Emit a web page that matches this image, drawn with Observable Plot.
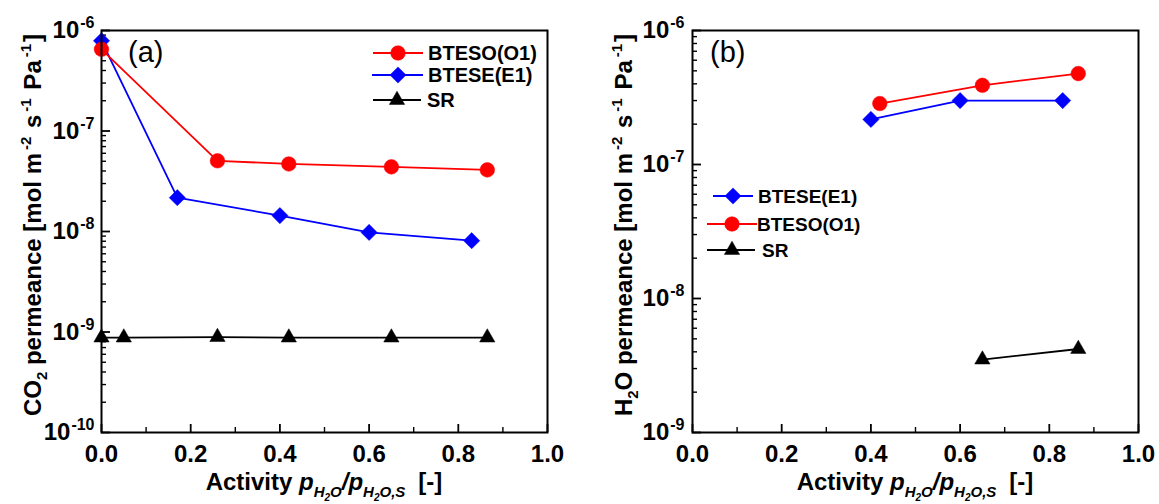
<!DOCTYPE html>
<html><head><meta charset="utf-8">
<script src="https://cdn.jsdelivr.net/npm/d3@7"></script>
<script src="https://cdn.jsdelivr.net/npm/@observablehq/plot@0.6"></script>
<style>
body{margin:0;background:#fff;}
#wrap{display:flex;width:1159px;height:504px;}
svg{display:block;}
svg text{font-family:"Liberation Sans",Arial,sans-serif;}
</style></head><body><div id="wrap"></div>
<script>
// ---------- Panel (a): CO2 permeance ----------
const aBTESO_x = [0, 0.26, 0.42, 0.65, 0.865];
const aBTESO_y = [6.5e-7, 5.05e-8, 4.7e-8, 4.4e-8, 4.1e-8];
const aBTESE_x = [0, 0.17, 0.40, 0.60, 0.83];
const aBTESE_y = [7.9e-7, 2.17e-8, 1.44e-8, 9.8e-9, 8.1e-9];
const aSR_x = [0, 0.05, 0.26, 0.42, 0.65, 0.865];
const aSR_y = [8.8e-10, 8.8e-10, 8.9e-10, 8.8e-10, 8.8e-10, 8.8e-10];
// ---------- Panel (b): H2O permeance ----------
const bBTESE_x = [0.40, 0.60, 0.83];
const bBTESE_y = [2.17e-7, 3.0e-7, 3.0e-7];
const bBTESO_x = [0.42, 0.65, 0.865];
const bBTESO_y = [2.85e-7, 3.9e-7, 4.77e-7];
const bSR_x = [0.65, 0.865];
const bSR_y = [3.5e-9, 4.2e-9];

const xTicks = [0, 0.2, 0.4, 0.6, 0.8, 1.0];
const xMinor = [0.1, 0.3, 0.5, 0.7, 0.9];
const aDecades = [1e-10, 1e-9, 1e-8, 1e-7, 1e-6];
const bDecades = [1e-9, 1e-8, 1e-7, 1e-6];
const aLegendOrder = ["BTESO(O1)", "BTESE(E1)", "SR"];
const bLegendOrder = ["BTESE(E1)", "BTESO(O1)", "SR"];
const colorOf = {"BTESO(O1)": "#ff0000", "BTESE(E1)": "#0000ff", "SR": "#000000"};
const symbolOf = {"BTESO(O1)": "circle", "BTESE(E1)": "diamond2", "SR": "triangle2"};
const d3SymbolOf = {"circle": d3.symbolCircle, "diamond2": d3.symbolDiamond2, "triangle2": d3.symbolTriangle2};

const zip = (xs, ys) => xs.map((x, i) => ({x, y: ys[i]}));
const aSeries = [
  {name: "SR", data: zip(aSR_x, aSR_y)},
  {name: "BTESE(E1)", data: zip(aBTESE_x, aBTESE_y)},
  {name: "BTESO(O1)", data: zip(aBTESO_x, aBTESO_y)}
];
const bSeries = [
  {name: "SR", data: zip(bSR_x, bSR_y)},
  {name: "BTESE(E1)", data: zip(bBTESE_x, bBTESE_y)},
  {name: "BTESO(O1)", data: zip(bBTESO_x, bBTESO_y)}
];

const NS = "http://www.w3.org/2000/svg";
const R = 7.3;

function richText(parent, runs, attrs) {
  const t = parent.append("text");
  for (const k in attrs) t.attr(k, attrs[k]);
  let cur = 0;
  for (const r of runs) {
    const shift = r.shift || 0;
    const ts = t.append("tspan").text(r.t);
    if (shift !== cur) ts.attr("dy", cur - shift);
    cur = shift;
    if (r.size) ts.attr("font-size", r.size);
    if (r.italic) ts.attr("font-style", "italic");
    if (r.dx) ts.attr("dx", r.dx);
  }
  return t;
}

function panel(o) {
  const height = 504, mt = 30, mb = 72;
  const pw = o.width - o.ml - o.mr, ph = height - mt - mb;
  const minor = [];
  for (const d of o.decades.slice(0, -1)) for (let k = 2; k <= 9; k++) minor.push(d * k);
  const marks = [
    // inward ticks (Plot tick marks, inset to short lengths)
    Plot.tickY(o.decades, {y: d => d, stroke: "black", strokeWidth: 1.8, insetRight: pw - 9}),
    Plot.tickY(minor, {y: d => d, stroke: "black", strokeWidth: 1.4, insetRight: pw - 5}),
    Plot.tickX(xTicks, {x: d => d, stroke: "black", strokeWidth: 1.8, insetTop: ph - 8}),
    Plot.tickX(xMinor, {x: d => d, stroke: "black", strokeWidth: 1.4, insetTop: ph - 5}),
    Plot.axisY(o.decades, {tickSize: 0, tickPadding: o.yPad, label: null,
      tickFormat: d => "10^" + Math.round(Math.log10(d)), fontSize: 24, fontWeight: "bold"}),
    Plot.axisX(xTicks, {tickSize: 0, tickPadding: 12, label: null,
      tickFormat: d3.format(".1f"), fontSize: 24, fontWeight: "bold"}),
    ...o.series.flatMap(s => [
      Plot.line(s.data, {x: "x", y: "y", stroke: colorOf[s.name], strokeWidth: 1.8}),
      Plot.dot(s.data, {x: "x", y: "y", symbol: symbolOf[s.name], r: R,
        fill: colorOf[s.name], stroke: colorOf[s.name], strokeWidth: 0.5})
    ]),
    Plot.frame({stroke: "black", strokeWidth: 2})
  ];
  const svg = Plot.plot({
    width: o.width, height,
    marginLeft: o.ml, marginRight: o.mr, marginTop: mt, marginBottom: mb,
    style: {color: "black", background: "white", overflow: "visible"},
    x: {domain: [0, 1], label: null},
    y: {type: "log", domain: [o.decades[0], o.decades[o.decades.length - 1]], label: null},
    marks
  });
  // superscript exponents on y tick labels
  svg.querySelectorAll('g[aria-label="y-axis tick label"] text').forEach(t => {
    const [base, exp] = t.textContent.split("^");
    t.textContent = base;
    const ts = document.createElementNS(NS, "tspan");
    ts.setAttribute("dy", "-10");
    ts.setAttribute("dx", "1");
    ts.setAttribute("font-size", "16");
    ts.textContent = exp;
    t.appendChild(ts);
  });
  const s = d3.select(svg);
  // panel label
  s.append("text").attr("x", o.ml + o.tagDx).attr("y", 62).attr("text-anchor", "start")
    .attr("font-family", "'Liberation Serif', 'Times New Roman', serif")
    .attr("font-size", 29).attr("fill", "black").text(o.tag);
  // y title
  const cy = mt + ph / 2;
  richText(s, o.yTitleRuns, {transform: `translate(${o.ml - 60},${cy - 6}) rotate(-90)`,
    "text-anchor": "middle", "font-size": 24, "font-weight": "bold", fill: "black"});
  // x title
  richText(s, [
    {t: "Activity "},
    {t: "p", italic: true},
    {t: "H", italic: true, size: 15, shift: -7},
    {t: "2", italic: true, size: 10, shift: -11},
    {t: "O", italic: true, size: 15, shift: -7},
    {t: "/p", italic: true, shift: 0},
    {t: "H", italic: true, size: 15, shift: -7},
    {t: "2", italic: true, size: 10, shift: -11},
    {t: "O,S", italic: true, size: 15, shift: -7},
    {t: "[-]", shift: 0, dx: 13}
  ], {x: o.ml + pw / 2, y: 490, "text-anchor": "middle", "font-size": 24,
      "font-weight": "bold", fill: "black"});
  // legend
  const lg = s.append("g");
  o.legend.rows.forEach((name, i) => {
    const y = o.legend.ys[i];
    const L = o.legend.lines[i];
    lg.append("line").attr("x1", L[0]).attr("x2", L[1]).attr("y1", y).attr("y2", y)
      .attr("stroke", colorOf[name]).attr("stroke-width", 1.8);
    lg.append("path").attr("transform", `translate(${L[2]},${y})`)
      .attr("d", d3.symbol(d3SymbolOf[symbolOf[name]], R * R * Math.PI)())
      .attr("fill", colorOf[name]).attr("stroke", colorOf[name]).attr("stroke-width", 0.5);
    lg.append("text").attr("x", L[3]).attr("y", y + 7).attr("text-anchor", "start")
      .attr("font-size", o.legend.size)
      .attr("font-weight", "bold").attr("fill", "black").text(name);
  });
  return svg;
}

const wrap = document.getElementById("wrap");
wrap.appendChild(panel({
  width: 580, ml: 101, mr: 33, decades: aDecades, series: aSeries, yPad: 7, tag: "(a)", tagDx: 27,
  yTitleRuns: [{t: "CO"}, {t: "2", size: 15, shift: -6}, {t: " permeance [mol m", shift: 0},
    {t: "-2", size: 15, shift: 10, dx: 3}, {t: " s", shift: 0, dx: 2}, {t: "-1", size: 15, shift: 10, dx: 3},
    {t: " Pa", shift: 0, dx: 2}, {t: "-1", size: 15, shift: 10, dx: 3}, {t: "]", shift: 0, dx: 2}],
  legend: {rows: aLegendOrder, ys: [53, 75, 100], size: 20,
    lines: [[373, 423, 398, 428], [372, 423, 398, 428], [373, 421, 397, 427]]}
}));
wrap.appendChild(panel({
  width: 579, ml: 112, mr: 21, decades: bDecades, series: bSeries, yPad: 8, tag: "(b)", tagDx: 18,
  yTitleRuns: [{t: "H"}, {t: "2", size: 15, shift: -6}, {t: "O permeance [mol m", shift: 0},
    {t: "-2", size: 15, shift: 10, dx: 3}, {t: " s", shift: 0, dx: 2}, {t: "-1", size: 15, shift: 10, dx: 3},
    {t: " Pa", shift: 0, dx: 2}, {t: "-1", size: 15, shift: 10, dx: 3}, {t: "]", shift: 0, dx: 2}],
  legend: {rows: bLegendOrder, ys: [196, 224, 250], size: 19,
    lines: [[133, 173, 153, 178], [127, 177, 152, 177], [127, 175, 152, 182]]}
}));
</script></body></html>
